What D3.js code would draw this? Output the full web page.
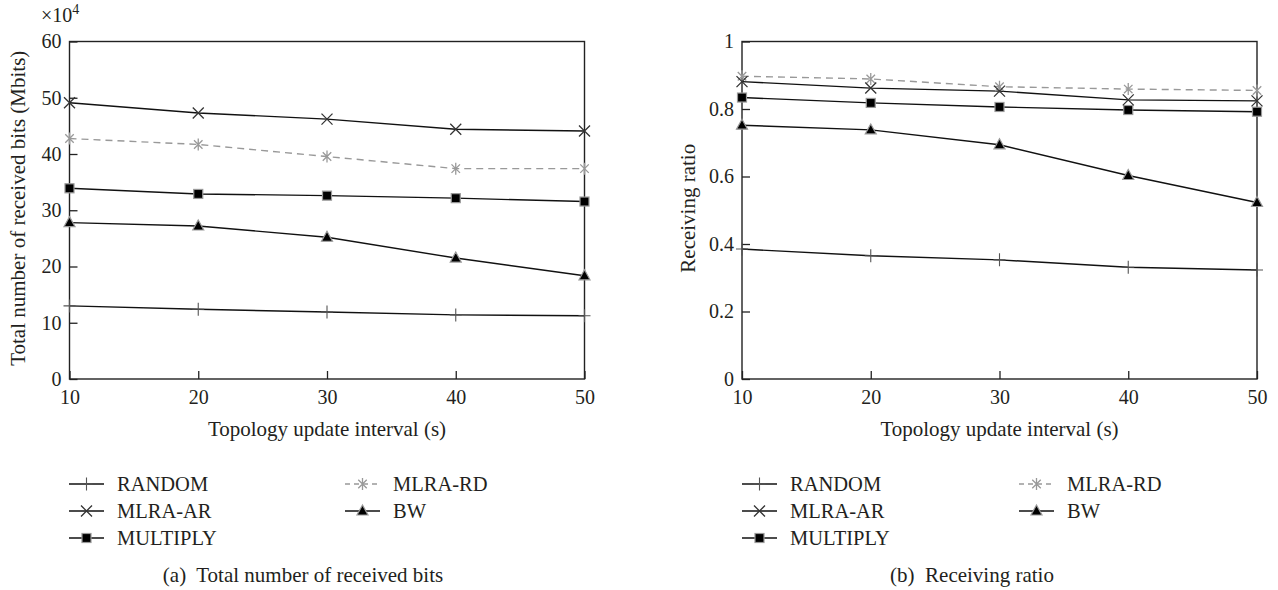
<!DOCTYPE html>
<html>
<head>
<meta charset="utf-8">
<script src="https://cdn.jsdelivr.net/npm/d3@7"></script>
<style>
  html, body { margin: 0; padding: 0; background: #fff; }
  svg { display: block; }
  text { font-family: "Liberation Serif", "DejaVu Serif", serif; fill: #231f20; }
</style>
</head>
<body>
<svg id="chart" width="1278" height="590"></svg>
<script>
// ---------------- data ----------------
const intervals = [10, 20, 30, 40, 50];
const xTicks = [10, 20, 30, 40, 50];
const bitsTicks = [0, 10, 20, 30, 40, 50, 60];
const ratioTicks = [0, 0.2, 0.4, 0.6, 0.8, 1];

const seriesNames = ["RANDOM", "MLRA-AR", "MULTIPLY", "MLRA-RD", "BW"];

// Total number of received bits (x10^4 Mbits)
const bitsRandom   = [13.0, 12.4, 11.9, 11.4, 11.25];
const bitsMlraAr   = [49.1, 47.3, 46.2, 44.4, 44.1];
const bitsMultiply = [33.9, 32.9, 32.6, 32.15, 31.55];
const bitsMlraRd   = [42.75, 41.7, 39.55, 37.4, 37.4];
const bitsBw       = [27.8, 27.2, 25.2, 21.5, 18.35];

// Receiving ratio
const ratioRandom   = [0.385, 0.365, 0.353, 0.331, 0.323];
const ratioMlraAr   = [0.881, 0.862, 0.853, 0.827, 0.824];
const ratioMultiply = [0.834, 0.818, 0.806, 0.797, 0.792];
const ratioMlraRd   = [0.897, 0.889, 0.866, 0.859, 0.855];
const ratioBw       = [0.752, 0.738, 0.694, 0.603, 0.523];

// ---------------- styles ----------------
const styles = {
  "RANDOM":   { line: "#111", dash: null,  marker: "plus" },
  "MLRA-AR":  { line: "#111", dash: null,  marker: "cross" },
  "MULTIPLY": { line: "#111", dash: null,  marker: "square" },
  "MLRA-RD":  { line: "#999", dash: "7,5", marker: "star" },
  "BW":       { line: "#111", dash: null,  marker: "triangle" }
};
const drawOrder = ["RANDOM", "BW", "MULTIPLY", "MLRA-RD", "MLRA-AR"];

const svg = d3.select("#chart");
const TICK_FONT = 20;
const TITLE_FONT = 21;
const LEGEND_FONT = 20.5;

function drawMarker(g, type, cx, cy) {
  if (type === "plus") {
    g.append("path").attr("d", `M${cx-6},${cy}H${cx+6}M${cx},${cy-6.5}V${cy+6.5}`)
      .attr("stroke", "#555").attr("stroke-width", 1.1).attr("fill", "none");
  } else if (type === "cross") {
    const r = 5.5;
    g.append("path").attr("d", `M${cx-r},${cy-r}L${cx+r},${cy+r}M${cx-r},${cy+r}L${cx+r},${cy-r}`)
      .attr("stroke", "#333").attr("stroke-width", 1.3).attr("fill", "none");
  } else if (type === "square") {
    g.append("rect").attr("x", cx-4.5).attr("y", cy-4.5).attr("width", 9).attr("height", 9)
      .attr("fill", "#000").attr("stroke", "#999").attr("stroke-width", 1.2);
  } else if (type === "triangle") {
    g.append("path").attr("d", `M${cx},${cy-6}L${cx+5.5},${cy+4}L${cx-5.5},${cy+4}Z`)
      .attr("fill", "#000").attr("stroke", "#999").attr("stroke-width", 1.2);
  } else if (type === "star") {
    const r = 6;
    const a = r * Math.cos(Math.PI / 4), b = r * Math.sin(Math.PI / 4);
    g.append("path").attr("d",
      `M${cx},${cy-r}V${cy+r}M${cx-a},${cy-b}L${cx+a},${cy+b}M${cx-a},${cy+b}L${cx+a},${cy-b}`)
      .attr("stroke", "#999").attr("stroke-width", 1.3).attr("fill", "none");
  }
}

function drawPanel(opts) {
  const { x0, x1, y0, y1, yDomain, yTicks, yFormat, data, yTitle, yTitleX, caption, captionX, legendX, legendX2 } = opts;
  const g = svg.append("g");
  const x = d3.scaleLinear().domain([10, 50]).range([x0, x1]);
  const y = d3.scaleLinear().domain(yDomain).range([y1, y0]);

  // axes
  const xAxis = d3.axisBottom(x).tickValues(xTicks).tickSizeInner(-8).tickSizeOuter(0).tickPadding(11)
    .tickFormat(d3.format("d"));
  const gx = g.append("g").attr("transform", `translate(0,${y1})`).call(xAxis);
  const yAxis = d3.axisLeft(y).tickValues(yTicks).tickSizeInner(-8).tickSizeOuter(0).tickPadding(8)
    .tickFormat(yFormat);
  const gy = g.append("g").attr("transform", `translate(${x0},0)`).call(yAxis);
  [gx, gy].forEach(a => {
    a.select(".domain").remove();
    a.selectAll(".tick line").attr("stroke", "#222").attr("stroke-width", 1.3);
    a.selectAll(".tick text").attr("font-size", TICK_FONT).attr("font-family", "Liberation Serif").attr("fill", "#231f20");
  });

  // frame
  g.append("rect").attr("x", x0).attr("y", y0).attr("width", x1 - x0).attr("height", y1 - y0)
    .attr("fill", "none").attr("stroke", "#222").attr("stroke-width", 1.4);

  // series
  const line = d3.line().x((d, i) => x(intervals[i])).y(d => y(d));
  drawOrder.forEach(name => {
    const st = styles[name];
    g.append("path").datum(data[name]).attr("d", line)
      .attr("fill", "none").attr("stroke", st.line).attr("stroke-width", 1.4)
      .attr("stroke-dasharray", st.dash);
  });
  drawOrder.forEach(name => {
    const st = styles[name];
    data[name].forEach((v, i) => drawMarker(g, st.marker, x(intervals[i]), y(v)));
  });

  // axis titles
  g.append("text").attr("x", (x0 + x1) / 2).attr("y", 436).attr("text-anchor", "middle")
    .attr("font-size", TITLE_FONT).text("Topology update interval (s)");
  g.append("text").attr("transform", `translate(${yTitleX},${(y0 + y1) / 2 - 2}) rotate(-90)`)
    .attr("text-anchor", "middle").attr("font-size", TITLE_FONT).text(yTitle);

  // legend
  const rows = [484, 511, 538];
  const legendItems = [
    { name: "RANDOM", col: 0, row: 0 }, { name: "MLRA-RD", col: 1, row: 0 },
    { name: "MLRA-AR", col: 0, row: 1 }, { name: "BW", col: 1, row: 1 },
    { name: "MULTIPLY", col: 0, row: 2 }
  ];
  legendItems.forEach(it => {
    const lx = it.col === 0 ? legendX : legendX2;
    const ly = rows[it.row];
    const st = styles[it.name];
    g.append("line").attr("x1", lx).attr("x2", lx + 35).attr("y1", ly).attr("y2", ly)
      .attr("stroke", st.line).attr("stroke-width", 1.4).attr("stroke-dasharray", st.dash ? "5,4" : null);
    drawMarker(g, st.marker, lx + 17.5, ly);
    g.append("text").attr("x", lx + 48).attr("y", ly + 7).attr("font-size", LEGEND_FONT).text(it.name);
  });

  // caption
  g.append("text").attr("x", captionX).attr("y", 582).attr("text-anchor", "middle")
    .attr("font-size", TITLE_FONT).attr("xml:space", "preserve").text(caption);
  return g;
}

const leftData = { "RANDOM": bitsRandom, "MLRA-AR": bitsMlraAr, "MULTIPLY": bitsMultiply, "MLRA-RD": bitsMlraRd, "BW": bitsBw };
const rightData = { "RANDOM": ratioRandom, "MLRA-AR": ratioMlraAr, "MULTIPLY": ratioMultiply, "MLRA-RD": ratioMlraRd, "BW": ratioBw };

const left = drawPanel({
  x0: 69.5, x1: 584.5, y0: 41.5, y1: 379, yDomain: [0, 60], yTicks: bitsTicks, yFormat: d3.format("d"),
  data: leftData, yTitle: "Total number of received bits (Mbits)", yTitleX: 25,
  caption: "(a)  Total number of received bits", captionX: 303, legendX: 69, legendX2: 345
});
// x10^4 multiplier
const mult = left.append("text").attr("x", 41).attr("y", 22).attr("font-size", TICK_FONT);
mult.append("tspan").text("\u00d710");
mult.append("tspan").attr("dy", -8).attr("font-size", 14).text("4");

drawPanel({
  x0: 742, x1: 1257, y0: 41.5, y1: 379, yDomain: [0, 1], yTicks: ratioTicks, yFormat: d3.format("~g"),
  data: rightData, yTitle: "Receiving ratio", yTitleX: 695,
  caption: "(b)  Receiving ratio", captionX: 972, legendX: 742, legendX2: 1019
});
</script>
</body>
</html>
